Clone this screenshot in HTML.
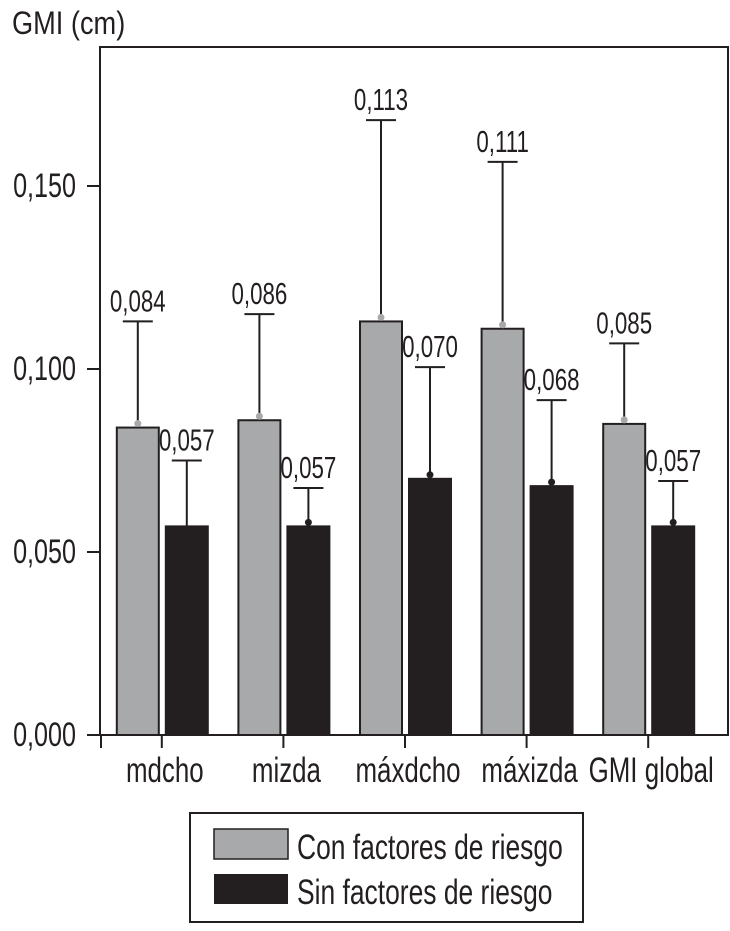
<!DOCTYPE html>
<html><head><meta charset="utf-8"><style>
html,body{margin:0;padding:0;background:#fff}
svg text{font-family:"Liberation Sans",sans-serif;fill:#231f20}
</style></head><body>
<svg id="chart" width="730" height="926" xmlns="http://www.w3.org/2000/svg">
<text transform="translate(12,34) scale(0.85,1)" font-size="32">GMI (cm)</text>
<rect x="100" y="47" width="628" height="688" fill="none" stroke="#231f20" stroke-width="2"/>
<g id="bars"></g>
<g>
<rect x="190" y="813" width="393" height="109" fill="none" stroke="#231f20" stroke-width="2"/>
<rect x="214" y="829" width="74" height="30" fill="#a7a9ab" stroke="#231f20" stroke-width="1.5"/>
<text transform="translate(297,859) scale(0.755,1)" font-size="35">Con factores de riesgo</text>
<rect x="214" y="874" width="74" height="30" fill="#231f20"/>
<text transform="translate(297,904) scale(0.755,1)" font-size="35">Sin factores de riesgo</text>
</g>
</svg>
<script>
const categories = ["mdcho","mizda","máxdcho","máxizda","GMI global"];
const conValues = [0.084,0.086,0.113,0.111,0.085];
const conErrTop = [0.113,0.115,0.168,0.1566,0.107];
const sinValues = [0.057,0.057,0.070,0.068,0.057];
const sinErrTop = [0.075,0.0675,0.1005,0.0915,0.0694];
const yTicks = [0,0.05,0.1,0.15];
const yTickLabels = ["0,000","0,050","0,100","0,150"];

const NS="http://www.w3.org/2000/svg";
const svg=document.getElementById('chart');
const g=document.getElementById('bars');
const y0=735, pxPerUnit=3660;
function y(v){return y0-v*pxPerUnit;}
const groupStart=100, groupW=121.6;
function xc(i){return groupStart+groupW*(i+0.5)+1;}
function mk(tag,attrs,parent){const e=document.createElementNS(NS,tag);for(const k in attrs)e.setAttribute(k,attrs[k]);(parent||g).appendChild(e);return e;}
function txt(x,yy,size,anchor,s,sx){const t=mk('text',{transform:'translate('+x+','+yy+') scale('+(sx||0.74)+',1)','font-size':size,'text-anchor':anchor});t.textContent=s;return t;}
function fmt(v){return v.toFixed(3).replace('.',',');}

yTicks.forEach((t,i)=>{
  const l=mk('line',{x1:87,x2:100,y1:y(t),y2:y(t),stroke:'#231f20','stroke-width':2});
  
  
  const tx=txt(76,y(t)+11,34,'end',yTickLabels[i]);
  
  
});
const xt0=mk('line',{x1:101,x2:101,y1:735,y2:748,stroke:'#231f20','stroke-width':2});



const bw=42;
categories.forEach((c,i)=>{
  const cx=xc(i);
  const xt=mk('line',{x1:cx,x2:cx,y1:735,y2:748,stroke:'#231f20','stroke-width':2});
  
  
  const lab=txt(cx+3,782,35,'middle',c);
  
  
  [[conValues,conErrTop,'#a7a9ab',cx-45,'con'],[sinValues,sinErrTop,'#231f20',cx+4,'sin']].forEach(([vals,errs,col,x,key])=>{
    const v=vals[i], e=errs[i], mx=x+bw/2;
    const el=mk('line',{x1:mx,x2:mx,y1:y(e),y2:y(v),stroke:'#231f20','stroke-width':2});
    
    
    const cap=mk('line',{x1:mx-15,x2:mx+15,y1:y(e),y2:y(e),stroke:'#231f20','stroke-width':2});
    
    
    const r=mk('rect',{x:x,y:y(v),width:bw,height:y0-y(v),fill:col,stroke:'#231f20','stroke-width':2});
    
    
    if(!(key==='sin'&&i===0)){
      const d=mk('circle',{cx:mx,cy:y(v)-4,r:3.5,fill:key==='con'?'#a7a9ab':'#231f20'});
      
      
    }
    const t=txt(mx,y(e)-10,31,'middle',fmt(v),0.72);
    
    
  });
});
</script>
</body></html>
